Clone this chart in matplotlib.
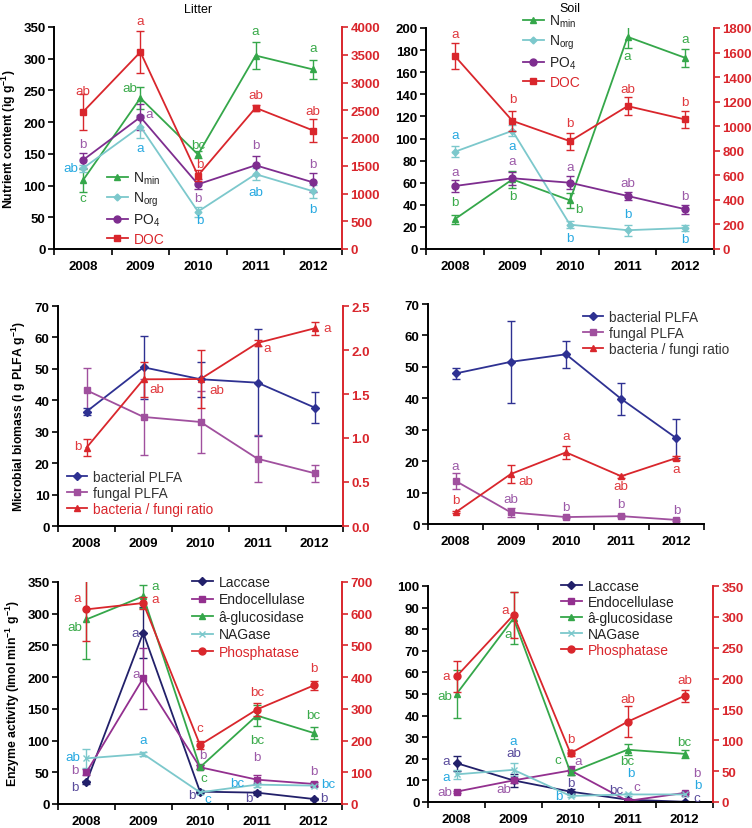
import numpy as np
import matplotlib
matplotlib.use("Agg")
import matplotlib.pyplot as plt
from matplotlib.lines import Line2D

plt.rcParams['font.family'] = ['Liberation Sans', 'DejaVu Sans']
plt.rcParams['mathtext.fontset'] = 'custom'
plt.rcParams['mathtext.rm'] = 'Liberation Sans'
plt.rcParams['mathtext.it'] = 'Liberation Sans'
plt.rcParams['mathtext.bf'] = 'Liberation Sans:bold'

years = ['2008', '2009', '2010', '2011', '2012']

# ---------------- Litter nutrients ----------------
lit_nmin = [108, 238, 149, 305, 283]
lit_nmin_err = [18, 18, 5, 22, 15]
lit_norg = [127, 193, 59, 118, 91]
lit_norg_err = [5, 18, 8, 10, 10]
lit_po4 = [140, 208, 102, 132, 105]
lit_po4_err = [12, 20, 8, 15, 15]
lit_doc = [2466, 3549, 1323, 2544, 2135]
lit_doc_err = [330, 375, 100, 50, 200]
lit_nmin_let = ['c', 'ab', 'bc', 'a', 'a']
lit_norg_let = ['ab', 'a', 'b', 'ab', 'b']
lit_po4_let = ['b', 'a', 'b', 'b', 'b']
lit_doc_let = ['ab', 'a', 'b', 'ab', 'ab']

# ---------------- Soil nutrients ----------------
soil_nmin = [27, 63, 44, 192, 173]
soil_nmin_err = [4, 8, 7, 10, 8]
soil_norg = [88, 107, 22, 17, 19]
soil_norg_err = [5, 5, 3, 5, 3]
soil_po4 = [57, 64, 60, 48, 36]
soil_po4_err = [5, 6, 6, 4, 4]
soil_doc = [1572, 1044, 878, 1164, 1055]
soil_doc_err = [107, 80, 70, 75, 70]
soil_nmin_let = ['b', 'b', 'b', 'a', 'a']
soil_norg_let = ['a', 'a', 'b', 'b', 'b']
soil_po4_let = ['a', 'a', 'a', 'ab', 'b']
soil_doc_let = ['a', 'b', 'b', 'ab', 'b']

# ---------------- Litter PLFA ----------------
lit_bac = [36.4, 50.5, 46.7, 45.6, 37.7]
lit_bac_err = [1, 10, 5.5, 17, 5]
lit_fun = [43.2, 34.7, 33.1, 21.4, 16.8]
lit_fun_err = [7, 12, 10, 7.5, 2.7]
lit_ratio = [0.89, 1.667, 1.67, 2.08, 2.246]
lit_ratio_err = [0.1, 0.2, 0.33, 0.03, 0.07]
lit_ratio_let = ['b', 'ab', 'ab', 'a', 'a']

# ---------------- Soil PLFA ----------------
soil_bac = [47.9, 51.6, 54.0, 39.8, 27.3]
soil_bac_err = [1.8, 13, 4.3, 5, 6.2]
soil_fun = [13.7, 3.7, 2.2, 2.5, 1.3]
soil_fun_err = [2.5, 1.5, 0.3, 0.3, 0.3]
soil_ratio = [3.7, 15.9, 22.8, 15.2, 21.0]
soil_ratio_err = [0.3, 3, 2, 0.5, 0.5]
soil_fun_let = ['a', 'ab', 'b', 'b', 'b']
soil_ratio_let = ['b', 'ab', 'a', 'ab', 'a']

# ---------------- Litter enzymes ----------------
lit_lac = [34.2, 270, 19.5, 17.9, 7.9]
lit_lac_err = [2, 40, 2, 3, 2]
lit_endo = [50, 198.4, 58, 38.4, 31.6]
lit_endo_err = [5, 48, 3, 7, 3]
lit_glu = [291, 327.4, 57.9, 139.5, 112]
lit_glu_err = [62, 18, 3, 17, 10]
lit_nag = [72, 79, 18.4, 30.5, 29]
lit_nag_err = [15, 3, 2, 3, 2]
lit_pho = [613.7, 633.7, 186.3, 297.9, 373.7]
lit_pho_err = [100, 20, 12, 20, 15]
lit_lac_let = ['b', 'a', 'b', 'b', 'b']
lit_endo_let = ['b', 'a', 'b', 'b', 'b']
lit_glu_let = ['ab', 'a', 'c', 'bc', 'bc']
lit_nag_let = ['ab', 'a', 'c', 'bc', 'bc']
lit_pho_let = ['a', 'a', 'c', 'bc', 'b']

# ---------------- Soil enzymes ----------------
soil_lac = [18, 10, 4.8, 1.1, 0.1]
soil_lac_err = [3.5, 3, 1, 0.5, 0.2]
soil_endo = [4.8, 10, 14.6, 0.5, 4.2]
soil_endo_err = [0.5, 1, 2, 0.3, 0.5]
soil_glu = [50, 85, 13.7, 24.2, 22.3]
soil_glu_err = [11, 12, 1, 2.5, 2]
soil_nag = [12.8, 14.9, 2.8, 3.5, 3.5]
soil_nag_err = [2, 3, 0.5, 0.5, 0.5]
soil_pho = [203.5, 303, 79, 130, 172]
soil_pho_err = [25, 38, 5, 25, 10]
soil_lac_let = ['a', 'ab', 'b', 'bc', 'c']
soil_endo_let = ['ab', 'ab', 'a', 'c', 'b']
soil_glu_let = ['ab', 'a', 'c', 'bc', 'bc']
soil_nag_let = ['a', 'a', 'b', 'b', 'b']
soil_pho_let = ['a', 'a', 'b', 'ab', 'ab']

# ---------------- styles ----------------
GREEN = '#35a74a'; GREEN_T = '#3aaa4a'
CYAN = '#7cc8cc'; CYAN_T = '#27a9e1'
PURP = '#7e2d8f'; PURP_T = '#9c5aa8'
RED = '#d9262c'; RED_T = '#e0393e'
BLUE = '#2e3192'
FPURP = '#a0509e'
NAVY = '#22206a'; NAVY_T = '#5a4c9c'
ENDO = '#93308f'

W, H = 752, 829
fig = plt.figure(figsize=(W / 100, H / 100), dpi=100)


def rect(l, r, t, b):
    return [l / W, 1 - b / H, (r - l) / W, (b - t) / H]


TICKFS = 9.5
LETFS = 9.6
YLFS = 8.8


def style_axes(ax, ymax, ystep, right=None, rmax=None, rstep=None, rfmt=None):
    ax.set_xlim(-0.5, 4.5)
    ax.set_ylim(0, ymax)
    ax.set_yticks(np.arange(0, ymax + ystep / 2, ystep))
    ax.set_xticks(np.arange(-0.5, 5, 1))
    ax.set_xticklabels([])
    ax.set_xticks(range(5), minor=True)
    ax.set_xticklabels(years, minor=True, fontweight='bold', fontsize=TICKFS)
    ax.tick_params(axis='x', which='minor', length=0, pad=8)
    ax.tick_params(axis='x', which='major', length=4, width=1.2, direction='out')
    ax.tick_params(axis='y', length=4, width=1.2, direction='out', labelsize=TICKFS, pad=2)
    for lab in ax.get_yticklabels():
        lab.set_fontweight('bold')
    ax.spines['top'].set_visible(False)
    ax.spines['right'].set_visible(False)
    ax.spines['left'].set_linewidth(1.4)
    ax.spines['bottom'].set_linewidth(1.4)
    if right is not None:
        right.set_ylim(0, rmax)
        right.set_yticks(np.arange(0, rmax + rstep / 2, rstep))
        if rfmt:
            right.set_yticklabels([rfmt(v) for v in np.arange(0, rmax + rstep / 2, rstep)])
        right.tick_params(axis='y', length=4, width=1.2, direction='out', colors=RED,
                          labelsize=TICKFS, pad=2)
        for lab in right.get_yticklabels():
            lab.set_fontweight('bold')
        right.spines['top'].set_visible(False)
        right.spines['left'].set_visible(False)
        right.spines['bottom'].set_visible(False)
        right.spines['right'].set_color(RED)
        right.spines['right'].set_linewidth(1.4)


def series(ax, y, err, color, marker, ms=5):
    return ax.errorbar(range(5), y, yerr=err, color=color, marker=marker, ms=ms, lw=1.3,
                       elinewidth=1.0, capsize=3, capthick=1.0, mec=color, mfc=color)


def letters(ax, y, labs, offs, color):
    for i, (v, t, (dx, dy)) in enumerate(zip(y, labs, offs)):
        ax.annotate(t, (i, v), xytext=(dx * 0.72, dy * 0.72), textcoords='offset points',
                    ha='center', va='center', color=color, fontsize=LETFS, zorder=10)


def legend(ax, handles, labels, colors, x, y, spacing=0.3, fs=10):
    leg = ax.legend(handles, labels, loc='upper left', bbox_to_anchor=(x / W, 1 - y / H),
                    bbox_transform=fig.transFigure, frameon=False, borderpad=0,
                    borderaxespad=0, handlelength=1.5, handletextpad=0.4,
                    labelspacing=spacing, fontsize=fs)
    for txt, c in zip(leg.get_texts(), colors):
        txt.set_color(c)
    return leg


def h(color, marker, ms=5):
    return Line2D([], [], color=color, marker=marker, ms=ms, lw=1.3, mfc=color, mec=color)


NUT_LABELS = ['N$_{\\mathrm{min}}$', 'N$_{\\mathrm{org}}$', 'PO$_{\\mathrm{4}}$', 'DOC']

# ===== Panel 1: Litter nutrients =====
ax1 = fig.add_axes(rect(54, 342, 28, 250))
ax1b = ax1.twinx()
style_axes(ax1, 350, 50, ax1b, 4000, 500)
series(ax1, lit_nmin, lit_nmin_err, GREEN, '^')
series(ax1, lit_norg, lit_norg_err, CYAN, 'D', 3.5)
series(ax1, lit_po4, lit_po4_err, PURP, 'o')
series(ax1b, lit_doc, lit_doc_err, RED, 's', 4.5)
letters(ax1b, lit_doc, lit_doc_let, [(0, 21), (0, 31), (2, 12), (0, 13), (0, 20)], RED_T)
letters(ax1, lit_nmin, lit_nmin_let, [(0, -18), (-11, 10), (0, 9), (0, 25), (0, 21)], GREEN_T)
letters(ax1, lit_norg, lit_norg_let, [(-12, 0), (0, -21), (2, -8), (0, -18), (0, -18)], CYAN_T)
letters(ax1, lit_po4, lit_po4_let, [(0, 16), (9, 3), (0, -14), (0, 20), (0, 18)], PURP_T)
ax1.set_title('Litter', fontsize=9, pad=11)
ax1.set_ylabel('Nutrient content (ìg $\\mathbf{g^{-1}}$)', fontweight='bold', fontsize=YLFS, labelpad=4)
legend(ax1b, [h(GREEN, '^'), h(CYAN, 'D', 3.5), h(PURP, 'o'), h(RED, 's', 4.5)],
       NUT_LABELS, ['#222222', '#222222', '#222222', RED], 107, 171, spacing=0.25)

# ===== Panel 2: Soil nutrients =====
ax2 = fig.add_axes(rect(426, 714, 29, 250))
ax2b = ax2.twinx()
style_axes(ax2, 200, 20, ax2b, 1800, 200)
series(ax2, soil_nmin, soil_nmin_err, GREEN, '^')
series(ax2, soil_norg, soil_norg_err, CYAN, 'D', 3.5)
series(ax2, soil_po4, soil_po4_err, PURP, 'o')
series(ax2b, soil_doc, soil_doc_err, RED, 's', 4.5)
letters(ax2b, soil_doc, soil_doc_let, [(0, 22), (0, 22), (0, 18), (0, 17), (0, 17)], RED_T)
letters(ax2, soil_nmin, soil_nmin_let, [(0, 17), (0, -17), (9, -9), (0, -19), (0, 19)], GREEN_T)
letters(ax2, soil_norg, soil_norg_let, [(0, 17), (0, -15), (0, -13), (0, 16), (0, -11)], CYAN_T)
letters(ax2, soil_po4, soil_po4_let, [(0, 14), (0, 17), (0, 16), (0, 13), (0, 13)], PURP_T)
ax2.set_title('Soil', fontsize=9, pad=12)
legend(ax2b, [h(GREEN, '^'), h(CYAN, 'D', 3.5), h(PURP, 'o'), h(RED, 's', 4.5)],
       NUT_LABELS, ['#222222', '#222222', '#222222', RED], 523, 14, spacing=0.25)

# ===== Panel 3: Litter PLFA =====
ax3 = fig.add_axes(rect(58, 343, 307, 527))
ax3b = ax3.twinx()
style_axes(ax3, 70, 10, ax3b, 2.5, 0.5, rfmt=lambda v: f'{v:.1f}')
series(ax3, lit_bac, lit_bac_err, BLUE, 'D', 4)
series(ax3, lit_fun, lit_fun_err, FPURP, 's', 4)
series(ax3b, lit_ratio, lit_ratio_err, RED, '^')
letters(ax3b, lit_ratio, lit_ratio_let, [(-9, 2), (13, -10), (16, -11), (10, -5), (13, 0)], RED_T)
ax3.set_ylabel('Microbial biomass (ì g PLFA $\\mathbf{g^{-1}}$)', fontweight='bold', fontsize=YLFS, labelpad=5)
legend(ax3b, [h(BLUE, 'D', 4), h(FPURP, 's', 4), h(RED, '^')],
       ['bacterial PLFA', 'fungal PLFA', 'bacteria / fungi ratio'], ['#333333', '#333333', RED],
       67, 471, spacing=0.15, fs=9.8)

# ===== Panel 4: Soil PLFA =====
ax4 = fig.add_axes(rect(428, 704, 305, 525))
style_axes(ax4, 70, 10)
series(ax4, soil_bac, soil_bac_err, BLUE, 'D', 4)
series(ax4, soil_fun, soil_fun_err, FPURP, 's', 4)
series(ax4, soil_ratio, soil_ratio_err, RED, '^')
letters(ax4, soil_fun, soil_fun_let, [(0, 15), (0, 13), (0, 10), (0, 12), (0, 10)], PURP_T)
letters(ax4, soil_ratio, soil_ratio_let, [(0, 12), (15, -7), (0, 16), (0, -10), (0, -11)], RED_T)
legend(ax4, [h(BLUE, 'D', 4), h(FPURP, 's', 4), h(RED, '^')],
       ['bacterial PLFA', 'fungal PLFA', 'bacteria / fungi ratio'], ['#333333', '#333333', '#333333'],
       583, 311, spacing=0.15, fs=9.8)

# ===== Panel 5: Litter enzymes =====
ax5 = fig.add_axes(rect(58, 342, 583, 805))
ax5b = ax5.twinx()
style_axes(ax5, 350, 50, ax5b, 700, 100)
series(ax5, lit_lac, lit_lac_err, NAVY, 'D', 4)
series(ax5, lit_endo, lit_endo_err, ENDO, 's', 4)
series(ax5, lit_glu, lit_glu_err, GREEN, '^')
series(ax5, lit_nag, lit_nag_err, CYAN, 'x', 5)
series(ax5b, lit_pho, lit_pho_err, RED, 'o')
letters(ax5b, lit_pho, lit_pho_let, [(-9, 11), (12, 4), (0, 17), (0, 18), (0, 17)], RED_T)
letters(ax5, lit_glu, lit_glu_let, [(-12, -8), (12, 10), (4, -11), (0, -24), (0, 18)], GREEN_T)
letters(ax5, lit_lac, lit_lac_let, [(-12, -5), (-8, 0), (-8, -3), (-8, -5), (10, 1)], NAVY_T)
letters(ax5, lit_endo, lit_endo_let, [(-12, 2), (-7, 4), (3, 12), (0, 23), (0, 13)], PURP_T)
letters(ax5, lit_nag, lit_nag_let, [(-14, 1), (0, 14), (8, -7), (-20, 2), (15, 2)], CYAN_T)
ax5.set_ylabel('Enzyme activity (ìmol $\\mathbf{min^{-1}\\ g^{-1}}$)', fontweight='bold', fontsize=YLFS, labelpad=4)
enz_h = [h(NAVY, 'D', 4), h(ENDO, 's', 4), h(GREEN, '^'), h(CYAN, 'x', 5), h(RED, 'o')]
enz_l = ['Laccase', 'Endocellulase', 'â-glucosidase', 'NAGase', 'Phosphatase']
enz_c = ['#222222', '#222222', '#222222', '#222222', RED]
legend(ax5b, enz_h, enz_l, enz_c, 192, 576, spacing=0.25)

# ===== Panel 6: Soil enzymes =====
ax6 = fig.add_axes(rect(428, 713, 587, 803))
ax6b = ax6.twinx()
style_axes(ax6, 100, 10, ax6b, 350, 50)
series(ax6, soil_lac, soil_lac_err, NAVY, 'D', 4)
series(ax6, soil_endo, soil_endo_err, ENDO, 's', 4)
series(ax6, soil_glu, soil_glu_err, GREEN, '^')
series(ax6, soil_nag, soil_nag_err, CYAN, 'x', 5)
series(ax6b, soil_pho, soil_pho_err, RED, 'o')
letters(ax6b, soil_pho, soil_pho_let, [(-10, 0), (-8, 5), (0, 14), (0, 23), (0, 16)], RED_T)
letters(ax6, soil_glu, soil_glu_let, [(-12, -2), (-5, -16), (-13, 12), (0, -11), (0, 12)], GREEN_T)
letters(ax6, soil_lac, soil_lac_let, [(-10, 2), (0, 27), (0, 9), (-11, 10), (12, 4)], NAVY_T)
letters(ax6, soil_endo, soil_endo_let, [(-12, 0), (-10, -9), (8, 9), (9, 14), (12, 20)], PURP_T)
letters(ax6, soil_nag, soil_nag_let, [(-10, -3), (0, 29), (-12, 0), (3, 21), (13, 9)], CYAN_T)
legend(ax6b, enz_h, enz_l, enz_c, 561, 580, spacing=0.15)

fig.savefig('out.png', dpi=100)
